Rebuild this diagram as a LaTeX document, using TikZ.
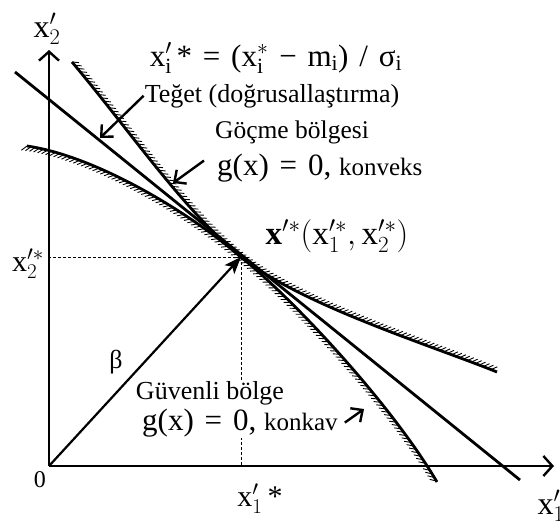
\RequirePackage{fix-cm}
\documentclass[tikz,border=0pt]{standalone}
\usepackage{amsmath}
\usepackage{fontspec}
\setmainfont{Liberation Serif}
\usepackage{tikz}
\usetikzlibrary{arrows.meta,decorations.pathreplacing,positioning}

\newcommand{\gap}{\hspace{0.35em}}

\begin{document}
\begin{tikzpicture}[
			x=1pt, y=-1pt,
			ax/.style={line width=2.4pt, -{Straight Barb[length=9pt, width=20pt]}},
			curve/.style={line width=2.8pt},
			hatchup/.style={postaction={draw, line width=0.9pt, decorate,
					decoration={border, segment length=4.2pt, amplitude=7pt, angle=45}}},
			hatchdown/.style={postaction={draw, line width=0.9pt, decorate,
					decoration={border, segment length=4.2pt, amplitude=-7pt, angle=45}}},
			guide/.style={dashed, line width=0.7pt, dash pattern=on 3pt off 2pt},
			lbl/.style={line width=2.4pt, -{Straight Barb[length=9pt, width=17pt]}},
			txt/.style={font=\fontsize{26}{30}\selectfont, inner sep=1pt},
			big/.style={font=\fontsize{31}{36}\selectfont, inner sep=1pt},
			mid/.style={font=\fontsize{30}{34}\selectfont, inner sep=1pt}
			]
			\useasboundingbox (0,0) rectangle (560,520);
			
			% Eksenler ve tasarım noktası
			\coordinate (O) at (49,466);
			\coordinate (ytop) at (49,50);
			\coordinate (xtop) at (554,466);
			\coordinate (P) at (241,257);
			\draw[ax] (O) -- (ytop);
			\draw[ax] (O) -- (xtop);
			\draw[guide] (P) -- (P -| O);
			\draw[guide] (P) -- (P |- O);
			
			% Güvenilirlik indeksi
			\draw[line width=2.2pt, -{Stealth[length=17pt, width=13pt, inset=4pt]}] (O) -- (P);
			\node[txt] (beta) at (116,362) {β};
			
			% Sınır durum eğrileri ve teğet
			\coordinate (B1) at (72,62);
			\coordinate (B2) at (497,372);
			\coordinate (A1) at (27,146);
			\coordinate (A2) at (437,482);
			\coordinate (T1) at (15,72);
			\coordinate (T2) at (520,480);
			\draw[curve, hatchup] (B1) .. controls (130,131) and (185,212) .. (P)
				.. controls (301,305) and (430,345) .. (B2);
			\draw[curve, hatchdown] (A1) .. controls (90,155) and (180,205) .. (P)
				.. controls (300,305) and (395,410) .. (A2);
			\draw[curve] (T1) -- (T2);
			
			% Eksen etiketleri
			\node[mid, font=\fontsize{32}{36}\selectfont] (x2) at (47,29) {$\mathrm{x}_2'$};
			\node[mid] (x2s) at (28,264) {$\mathrm{x}_2^{\prime *}$};
			\node[txt, font=\fontsize{24}{28}\selectfont] (zero) at (40,480) {0};
			\node[mid] (x1s) at (260,499) {$\mathrm{x}_1'$\,*};
			\node[mid, font=\fontsize{32}{36}\selectfont] (x1) at (551,506) {$\mathrm{x}_1'$};
			
			% Açıklamalar
			\node[mid, font=\fontsize{31}{36}\selectfont, anchor=base] (eq) at (276,66)
				{x$'_{\mathrm{i}}$\hspace{0.15em}*\gap=\gap(x$^{*}_{\mathrm{i}}$\gap−\gap m$_{\mathrm{i}}$)\gap/\gap σ$_{\mathrm{i}}$};
			\node[txt, anchor=base] (teget) at (272,102) {Teğet (doğrusallaştırma)};
			\node[txt, font=\fontsize{25.5}{30}\selectfont, anchor=base] (gocme) at (292,138) {Göçme bölgesi};
			\node[big, anchor=base west] (konveks) at (216,175) {g(x)\gap=\gap0, {\fontsize{25}{28}\selectfont konveks}};
			\node[mid, font=\fontsize{33}{38}\selectfont] (xs) at (337,236) {$\mathbf{x}^{\prime *}(\mathrm{x}_1^{\prime *},\mathrm{x}_2^{\prime *})$};
			\node[txt, fill=white] (guvenli) at (210,393) {Güvenli bölge};
			\node[big, fill=white, anchor=base west] (konkav) at (141,430) {g(x)\gap=\gap0, {\fontsize{25}{28}\selectfont konkav}};
			
			% Etiket okları
			\coordinate (tegetuc) at (100,138);
			\coordinate (gocmeuc) at (173,183);
			\coordinate (konkavuc) at (364,409);
			\draw[lbl] (teget.west) -- (tegetuc);
			\draw[lbl] (konveks.west) ++(-12,-7) -- (gocmeuc);
			\draw[lbl] (konkav.east) ++(6,0) -- (konkavuc);
			
		\end{tikzpicture}
\end{document}
